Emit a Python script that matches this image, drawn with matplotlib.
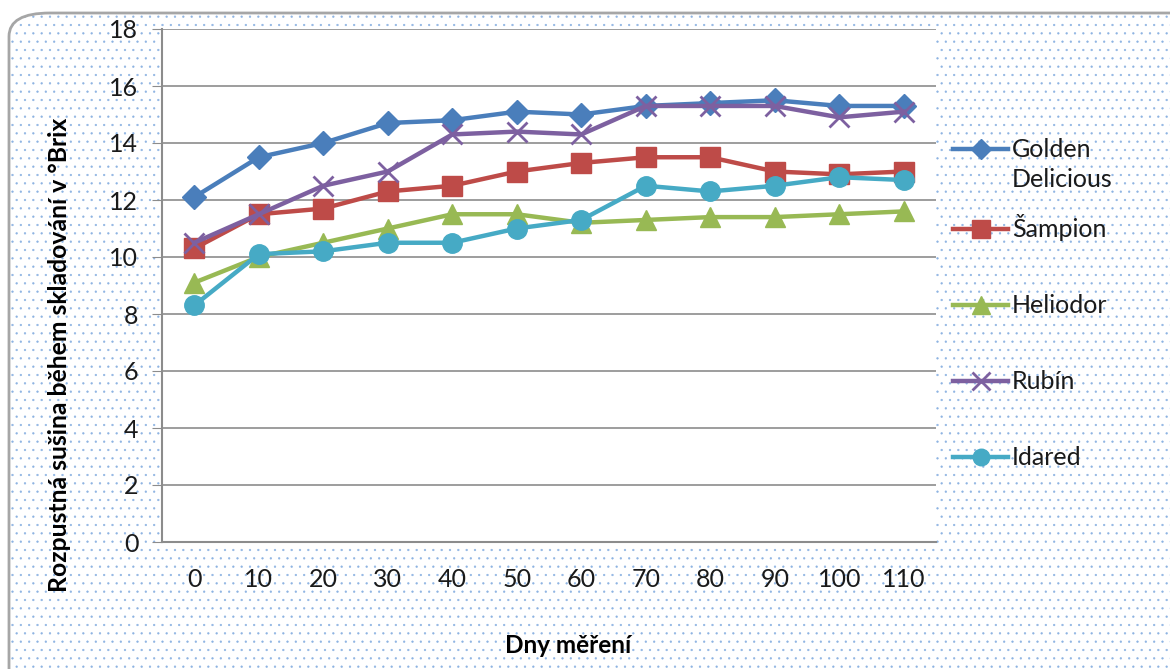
import matplotlib.pyplot as plt
import matplotlib.patches as patches

# Data
days = [0, 10, 20, 30, 40, 50, 60, 70, 80, 90, 100, 110]
golden = [12.1, 13.5, 14.0, 14.7, 14.8, 15.1, 15.0, 15.3, 15.4, 15.5, 15.3, 15.3]
sampion = [10.3, 11.5, 11.7, 12.3, 12.5, 13.0, 13.3, 13.5, 13.5, 13.0, 12.9, 13.0]
heliodor = [9.1, 10.0, 10.5, 11.0, 11.5, 11.5, 11.2, 11.3, 11.4, 11.4, 11.5, 11.6]
rubin = [10.5, 11.5, 12.5, 13.0, 14.3, 14.4, 14.3, 15.3, 15.3, 15.3, 14.9, 15.1]
idared = [8.3, 10.1, 10.2, 10.5, 10.5, 11.0, 11.3, 12.5, 12.3, 12.5, 12.8, 12.7]

names = ['Golden', 'Šampion', 'Heliodor', 'Rubín', 'Idared']

plt.rcParams['font.family'] = ['Lato', 'DejaVu Sans']
plt.rcParams['hatch.linewidth'] = 0.4

W, H = 1170, 669
fig = plt.figure(figsize=(W / 100, H / 100), dpi=100)
fig.patch.set_facecolor('white')

# dotted background with rounded border
box = (9/W, -0.05)
bw, bh = 1.2, 1.05 - 13/H
bg = patches.FancyBboxPatch(box, bw, bh,
                            boxstyle='round,pad=0,rounding_size=0.035',
                            transform=fig.transFigure, facecolor='white',
                            edgecolor='#8DB3E2', hatch='..', lw=0, zorder=0)
fig.patches.append(bg)
border = patches.FancyBboxPatch(box, bw, bh,
                                boxstyle='round,pad=0,rounding_size=0.035',
                                transform=fig.transFigure, facecolor='none',
                                edgecolor='#A6A6A6', lw=2, zorder=1)
fig.patches.append(border)

ax = fig.add_axes([162/W, 127/H, 774/W, 513/H])
ax.set_facecolor('white')
ax.set_zorder(2)

x = list(range(len(days)))
ax.plot(x, golden, color='#4A7EBB', lw=3.2, marker='D', ms=12, label=names[0])
ax.plot(x, sampion, color='#BE4B48', lw=3.2, marker='s', ms=15, label=names[1])
ax.plot(x, heliodor, color='#98B954', lw=3.2, marker='^', ms=15, label=names[2])
ax.plot(x, rubin, color='#7D60A0', lw=3.2, marker='x', ms=15, mew=2, label=names[3])
ax.plot(x, idared, color='#46AAC5', lw=3.2, marker='o', ms=14, label=names[4])

ax.set_xlim(-0.5, len(days) - 0.5)
ax.set_ylim(0, 18)
ax.set_yticks(range(0, 19, 2))
ax.set_xticks(x)
ax.set_xticklabels([str(d) for d in days])
ax.yaxis.grid(True, color='#8C8C8C', lw=1.2)
ax.set_axisbelow(True)
for s in ['top', 'right']:
    ax.spines[s].set_visible(False)
for s in ['left', 'bottom']:
    ax.spines[s].set_color('#8C8C8C')
    ax.spines[s].set_linewidth(1.5)
ax.tick_params(axis='x', length=0, pad=19, labelsize=18, labelcolor='#1a1a1a')
ax.tick_params(axis='y', length=7, color='#8C8C8C', pad=10, labelsize=18,
               labelcolor='#1a1a1a')

ax.set_ylabel('Rozpustná sušina během skladování v °Brix', fontsize=17.8,
              fontweight='bold')
ax.yaxis.set_label_coords(-0.118, 0.365)
ax.set_xlabel('Dny měření', fontsize=17.5, fontweight='bold')
ax.xaxis.set_label_coords(0.525, -0.18)

leg = ax.legend(loc='center left', bbox_to_anchor=(1.022, 0.464), frameon=False,
                fontsize=18, handlelength=2.2, labelspacing=2.12,
                handletextpad=0.15, borderaxespad=0, borderpad=0,
                markerscale=0.85)
for t in leg.get_texts():
    t.set_color('#1a1a1a')

# second line of the first legend label, placed under "Golden"
fig.canvas.draw()
bb = leg.get_texts()[0].get_window_extent()
fig.text(bb.x0 / W, (bb.y0 - 7) / H, 'Delicious', ha='left', va='top',
         fontsize=18, color='#1a1a1a')

fig.savefig('out.png', dpi=100)
